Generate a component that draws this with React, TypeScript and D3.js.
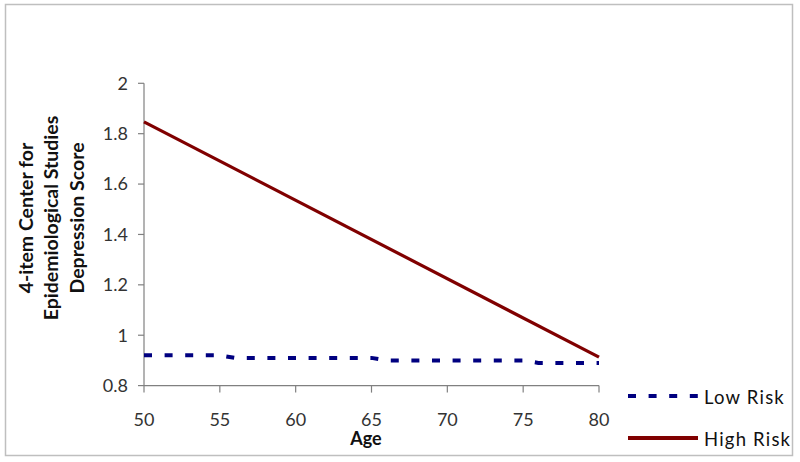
import React from "react";
import * as d3 from "d3";

const ageTicks = [50, 55, 60, 65, 70, 75, 80];
const scoreTicks = [0.8, 1, 1.2, 1.4, 1.6, 1.8, 2];
const lowRiskAges = [50, 51, 52, 53, 54, 55, 56, 57, 58, 59, 60, 61, 62, 63, 64, 65, 66, 67, 68, 69, 70, 71, 72, 73, 74, 75, 76, 77, 78, 79, 80];
const lowRiskValues = [0.92, 0.92, 0.92, 0.92, 0.92, 0.92, 0.91, 0.91, 0.91, 0.91, 0.91, 0.91, 0.91, 0.91, 0.91, 0.91, 0.90, 0.90, 0.90, 0.90, 0.90, 0.90, 0.90, 0.90, 0.90, 0.90, 0.89, 0.89, 0.89, 0.89, 0.89];
const highRiskAges = [50, 80];
const highRiskValues = [1.847, 0.913];
const seriesNames = ["Low Risk", "High Risk"];
const yTitleLines = ["4-item Center for", "Epidemiological Studies", "Depression Score"];
const xTitle = "Age";

const FONT = "Lato, 'Open Sans', sans-serif";
const LOW = "#000080";
const HIGH = "#800000";

export default function App() {
  const x = d3.scaleLinear().domain([50, 80]).range([144, 599]);
  const y = d3.scaleLinear().domain([0.8, 2]).range([385.6, 83.3]);

  const line = d3
    .line<[number, number]>()
    .x((d) => x(d[0]))
    .y((d) => y(d[1]));

  const lowPts = lowRiskAges.map((a, i) => [a, lowRiskValues[i]] as [number, number]);
  const highPts = highRiskAges.map((a, i) => [a, highRiskValues[i]] as [number, number]);

  return (
    <svg
      width={800}
      height={462}
      style={{ position: "absolute", left: 0, top: 0, background: "#fff" }}
    >
      <rect x={5.5} y={4.5} width={787} height={451} fill="#fff" stroke="#bfbfbf" strokeWidth={1.5} />

      {/* y axis */}
      <line x1={x(50)} x2={x(50)} y1={y(0.8)} y2={y(2)} stroke="#808080" strokeWidth={1.2} />
      {scoreTicks.map((t) => (
        <g key={"y" + t}>
          <line x1={x(50) - 6} x2={x(50)} y1={y(t)} y2={y(t)} stroke="#808080" strokeWidth={1.2} />
          <text
            x={128}
            y={y(t)}
            dy="0.35em"
            textAnchor="end"
            fontFamily={FONT}
            fontSize={18}
            fill="#333"
          >
            {d3.format("~g")(t)}
          </text>
        </g>
      ))}

      {/* x axis */}
      <line x1={x(50)} x2={x(80)} y1={y(0.8)} y2={y(0.8)} stroke="#808080" strokeWidth={1.2} />
      {ageTicks.map((t) => (
        <g key={"x" + t}>
          <line x1={x(t)} x2={x(t)} y1={y(0.8)} y2={y(0.8) + 7} stroke="#808080" strokeWidth={1.2} />
          <text
            x={x(t)}
            y={426}
            textAnchor="middle"
            fontFamily={FONT}
            fontSize={18}
            fill="#333"
          >
            {t}
          </text>
        </g>
      ))}

      <text x={366} y={445} textAnchor="middle" fontFamily={FONT} fontWeight="bold" fontSize={18} fill="#111">
        {xTitle}
      </text>

      <g transform="translate(51.5,218) rotate(-90)">
        {yTitleLines.map((l, i) => (
          <text
            key={l}
            x={0}
            y={(i - 1) * 25.5}
            dy="0.35em"
            textAnchor="middle"
            fontFamily={FONT}
            fontWeight="bold"
            fontSize={19.5}
            fill="#111"
          >
            {l}
          </text>
        ))}
      </g>

      {/* series */}
      <path d={line(highPts) || ""} fill="none" stroke={HIGH} strokeWidth={3.2} />
      <path
        d={line(lowPts) || ""}
        fill="none"
        stroke={LOW}
        strokeWidth={4}
        strokeDasharray="8,12.6"
      />

      {/* legend */}
      <g>
        <line x1={628} x2={698} y1={396} y2={396} stroke={LOW} strokeWidth={4} strokeDasharray="8,12.6" />
        <text x={704} y={397.5} dy="0.35em" fontFamily={FONT} fontSize={18.5} letterSpacing={1.2} fill="#111">
          {seriesNames[0]}
        </text>
        <line x1={628} x2={698} y1={438} y2={438} stroke={HIGH} strokeWidth={4} />
        <text x={704} y={439.5} dy="0.35em" fontFamily={FONT} fontSize={18.5} letterSpacing={1.2} fill="#111">
          {seriesNames[1]}
        </text>
      </g>
    </svg>
  );
}
